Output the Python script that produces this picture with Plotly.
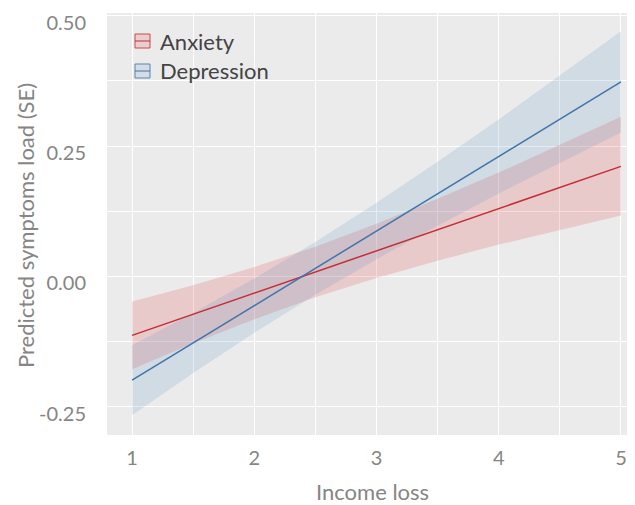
import plotly.graph_objects as go

# Data
income_loss = [1, 1.5, 2, 2.5, 3, 3.5, 4, 4.5, 5]

anxiety_fit = [-0.113, -0.0725, -0.032, 0.0085, 0.049, 0.0895, 0.130, 0.1705, 0.211]
anxiety_lo = [-0.178, -0.128, -0.082, -0.040, -0.003, 0.030, 0.061, 0.089, 0.117]
anxiety_hi = [-0.048, -0.017, 0.018, 0.057, 0.101, 0.149, 0.199, 0.252, 0.306]

depression_fit = [-0.199, -0.1275, -0.056, 0.0155, 0.087, 0.1585, 0.230, 0.3015, 0.373]
depression_lo = [-0.266, -0.185, -0.108, -0.035, 0.033, 0.097, 0.159, 0.218, 0.276]
depression_hi = [-0.132, -0.070, -0.004, 0.066, 0.141, 0.220, 0.301, 0.385, 0.470]

y_ticks = [-0.25, 0.0, 0.25, 0.50]
y_ticklabels = ["-0.25", "0.00", "0.25", "0.50"]
x_ticks = [1, 2, 3, 4, 5]

series_names = ["Anxiety", "Depression"]
line_colors = ["#C62D33", "#3F75AA"]
fill_colors = ["rgba(228,40,45,0.17)", "rgba(60,125,185,0.15)"]

FONT = "Lato, 'Open Sans', sans-serif"
GRAY = "#858585"
FS_TICK = 20
FS = 22

# The page body has an 8px margin; the figure is sized so it ends at the window edge.
OFF = 8
FIG_W, FIG_H = 635 - OFF, 505 - OFF
# Panel geometry in window pixels
L, T, R, B = 107, 13, 635, 435

def px(x):
    return (x - L) / (R - L)
def py(y):
    return (B - y) / (B - T)

fig = go.Figure()

bands = [(anxiety_lo, anxiety_hi), (depression_lo, depression_hi)]
for (lo, hi), fc in zip(bands, fill_colors):
    fig.add_trace(go.Scatter(
        x=income_loss + income_loss[::-1],
        y=hi + lo[::-1],
        fill="toself", fillcolor=fc, mode="lines",
        line=dict(width=0, color="rgba(0,0,0,0)"),
        hoverinfo="skip", showlegend=False))

for fit, lc, name in zip([anxiety_fit, depression_fit], line_colors, series_names):
    fig.add_trace(go.Scatter(
        x=income_loss, y=fit, mode="lines",
        line=dict(color=lc, width=1.5), name=name, showlegend=False))

shapes = []
annotations = []
for i, (name, lc, fc) in enumerate(zip(series_names, line_colors, fill_colors)):
    cy = 41 + 30 * i
    shapes.append(dict(type="rect", xref="paper", yref="paper",
                       x0=px(135), x1=px(150), y0=py(cy - 7), y1=py(cy + 7),
                       fillcolor=fc, line=dict(color=lc, width=1), opacity=0.85))
    shapes.append(dict(type="line", xref="paper", yref="paper",
                       x0=px(135), x1=px(150), y0=py(cy), y1=py(cy),
                       line=dict(color=lc, width=1)))
    annotations.append(dict(xref="paper", yref="paper", x=px(158), y=py(cy),
                            text=name, showarrow=False, xanchor="left", yanchor="middle",
                            font=dict(family=FONT, size=FS, color="#444444")))

annotations.append(dict(xref="paper", yref="paper", x=px(372), y=py(491),
                        text="Income loss", showarrow=False,
                        xanchor="center", yanchor="middle",
                        font=dict(family=FONT, size=FS, color=GRAY)))
annotations.append(dict(xref="paper", yref="paper", x=px(26), y=py(226),
                        text="Predicted symptoms load (SE)", showarrow=False, textangle=-90,
                        xanchor="center", yanchor="middle",
                        font=dict(family=FONT, size=FS, color=GRAY)))

fig.update_layout(
    width=FIG_W, height=FIG_H,
    margin=dict(l=L - OFF, r=FIG_W - (R - OFF), t=T - OFF, b=FIG_H - (B - OFF), pad=0),
    paper_bgcolor="white", plot_bgcolor="#EBEBEB",
    font=dict(family=FONT, color=GRAY, size=FS),
    shapes=shapes, annotations=annotations,
    showlegend=False,
)
fig.update_xaxes(
    range=[0.795, 5.115], tickvals=x_ticks, automargin=False,
    showgrid=True, gridcolor="white", gridwidth=1.3, zeroline=False,
    minor=dict(dtick=0.5, tick0=0.5, showgrid=True, gridcolor="white", gridwidth=0.6),
    ticks="outside", ticklen=5, tickcolor="rgba(0,0,0,0)",
    tickfont=dict(size=FS_TICK, color=GRAY), ticklabeloverflow="allow",
    showline=False,
)
fig.update_yaxes(
    range=[-0.304, 0.505], tickvals=y_ticks, ticktext=y_ticklabels, automargin=False,
    showgrid=True, gridcolor="white", gridwidth=1.3, zeroline=False,
    minor=dict(dtick=0.125, tick0=-0.125, showgrid=True, gridcolor="white", gridwidth=0.6),
    ticks="outside", ticklen=16, tickcolor="rgba(0,0,0,0)",
    tickfont=dict(size=FS_TICK, color=GRAY), ticklabeloverflow="allow",
    ticklabelshift=7,
    showline=False,
)

fig.write_html("out.html")
